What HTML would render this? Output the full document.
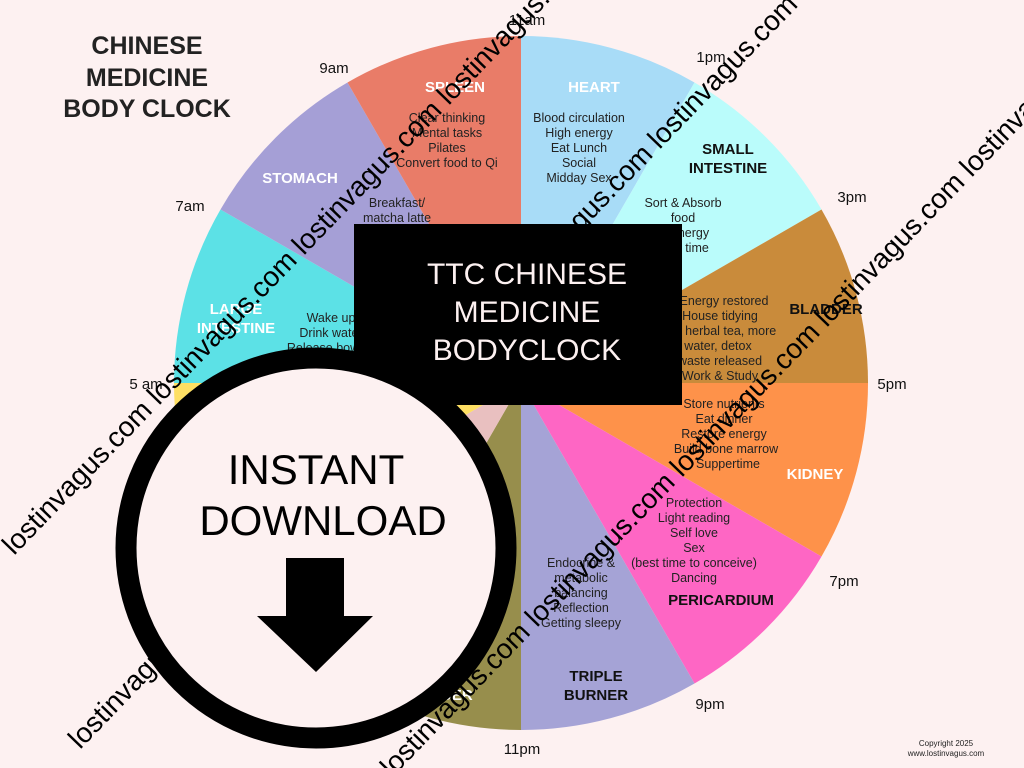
<!DOCTYPE html>
<html><head><meta charset="utf-8"><style>
html,body{margin:0;padding:0;background:#fdf1f1;}
svg{display:block;font-family:"Liberation Sans",sans-serif;}
.t{font-size:12.5px;fill:#222;text-anchor:middle}
.h{font-size:15px;font-weight:bold;text-anchor:middle}
.w{fill:#fff}
.k{fill:#111}
.tm{font-size:15px;fill:#111;text-anchor:middle}
.wm{font-size:28px;fill:#000}
</style></head><body>
<svg width="1024" height="768" viewBox="0 0 1024 768">
<rect width="1024" height="768" fill="#fdf1f1"/>
<g transform="translate(521,383)">
<path d="M0 0 L0 -347 A347 347 0 0 1 173.5 -300.5Z" fill="#a8dcf7"/>
<path d="M0 0 L173.5 -300.5 A347 347 0 0 1 300.5 -173.5Z" fill="#bafcfb"/>
<path d="M0 0 L300.5 -173.5 A347 347 0 0 1 347 0Z" fill="#c98b3b"/>
<path d="M0 0 L347 0 A347 347 0 0 1 300.5 173.5Z" fill="#fe924a"/>
<path d="M0 0 L300.5 173.5 A347 347 0 0 1 173.5 300.5Z" fill="#fe66c4"/>
<path d="M0 0 L173.5 300.5 A347 347 0 0 1 0 347Z" fill="#a5a3d6"/>
<path d="M0 0 L0 347 A347 347 0 0 1 -173.5 300.5Z" fill="#978e4c"/>
<path d="M0 0 L-173.5 300.5 A347 347 0 0 1 -300.5 173.5Z" fill="#e9c0c0"/>
<path d="M0 0 L-300.5 173.5 A347 347 0 0 1 -347 0Z" fill="#fedf63"/>
<path d="M0 0 L-347 0 A347 347 0 0 1 -300.5 -173.5Z" fill="#5ce1e6"/>
<path d="M0 0 L-300.5 -173.5 A347 347 0 0 1 -173.5 -300.5Z" fill="#a59fd6"/>
<path d="M0 0 L-173.5 -300.5 A347 347 0 0 1 0 -347Z" fill="#e97c68"/>
</g>
<g font-size="25" font-weight="bold" fill="#222" text-anchor="middle">
<text x="147" y="54">CHINESE</text><text x="147" y="86">MEDICINE</text><text x="147" y="117">BODY CLOCK</text>
</g>
<text class="tm" x="527" y="25">11am</text>
<text class="tm" x="711" y="62">1pm</text>
<text class="tm" x="852" y="202">3pm</text>
<text class="tm" x="892" y="389">5pm</text>
<text class="tm" x="844" y="586">7pm</text>
<text class="tm" x="710" y="709">9pm</text>
<text class="tm" x="522" y="754">11pm</text>
<text class="tm" x="146" y="389">5 am</text>
<text class="tm" x="190" y="211">7am</text>
<text class="tm" x="334" y="73">9am</text>
<text class="h w" x="594" y="92">HEART</text>
<text class="h k" x="728" y="154">SMALL</text><text class="h k" x="728" y="173">INTESTINE</text>
<text class="h k" x="826" y="314">BLADDER</text>
<text class="h w" x="815" y="479">KIDNEY</text>
<text class="h k" x="721" y="605">PERICARDIUM</text>
<text class="h k" x="596" y="681">TRIPLE</text><text class="h k" x="596" y="700">BURNER</text>
<text class="h w" x="300" y="183">STOMACH</text>
<text class="h w" x="455" y="92">SPLEEN</text>
<text class="h w" x="236" y="314">LARGE</text><text class="h w" x="236" y="333">INTESTINE</text>
<text class="h w" x="436" y="681">GALL</text><text class="h w" x="436" y="700">BLADDER</text>
<g>
<text class="t" x="579" y="122">Blood circulation</text><text class="t" x="579" y="137">High energy</text><text class="t" x="579" y="152">Eat Lunch</text><text class="t" x="579" y="167">Social</text><text class="t" x="579" y="182">Midday Sex</text>
<text class="t" x="447" y="122">Clear thinking</text><text class="t" x="447" y="137">Mental tasks</text><text class="t" x="447" y="152">Pilates</text><text class="t" x="447" y="167">Convert food to Qi</text>
<text class="t" x="683" y="207">Sort &amp; Absorb</text><text class="t" x="683" y="222">food</text><text class="t" x="690" y="237">energy</text><text class="t" x="697" y="252">time</text>
<text class="t" x="397" y="207">Breakfast/</text><text class="t" x="397" y="222">matcha latte</text><text class="t" x="397" y="237">Vitamins</text><text class="t" x="397" y="252">Good carbs</text>
<text class="t" x="724" y="305">Energy restored</text><text class="t" x="720" y="320">House tidying</text><text class="t" x="722" y="335">on herbal tea, more</text><text class="t" x="718" y="350">water, detox</text><text class="t" x="720" y="365">waste released</text><text class="t" x="720" y="380">Work &amp; Study</text>
<text class="t" x="331" y="322">Wake up</text><text class="t" x="331" y="337">Drink water</text><text class="t" x="331" y="352">Release bowels</text>
<text class="t" x="724" y="408">Store nutrients</text><text class="t" x="724" y="423">Eat dinner</text><text class="t" x="724" y="438">Restore energy</text><text class="t" x="726" y="453">Build bone marrow</text><text class="t" x="728" y="468">Suppertime</text>
<text class="t" x="694" y="507">Protection</text><text class="t" x="694" y="522">Light reading</text><text class="t" x="694" y="537">Self love</text><text class="t" x="694" y="552">Sex</text><text class="t" x="694" y="567">(best time to conceive)</text><text class="t" x="694" y="582">Dancing</text>
<text class="t" x="581" y="567">Endocrine &amp;</text><text class="t" x="581" y="582">metabolic</text><text class="t" x="581" y="597">balancing</text><text class="t" x="581" y="612">Reflection</text><text class="t" x="581" y="627">Getting sleepy</text>
<text class="t" x="475" y="618">Bowels</text>
</g>
<text class="wm" transform="translate(14,556) rotate(-46)">lostinvagus.com lostinvagus.com lostinvagus.com lostinvagus.com</text>
<text class="wm" transform="translate(80,750) rotate(-46)">lostinvagus.com lostinvagus.com lostinvagus.com lostinvagus.com lostinvagus.com</text>
<text class="wm" transform="translate(392,778) rotate(-46)">lostinvagus.com lostinvagus.com lostinvagus.com lostinvagus.com lostinvagus.com</text>
<rect x="354" y="224" width="328" height="181" fill="#000"/>
<g font-size="30" fill="#fdf1f1" text-anchor="middle"><text x="527" y="284">TTC CHINESE</text><text x="527" y="322">MEDICINE</text><text x="527" y="360">BODYCLOCK</text></g>
<circle cx="316" cy="548" r="190" fill="#fdf1f1" stroke="#000" stroke-width="21"/>
<g font-size="42" fill="#000" text-anchor="middle"><text x="316" y="484">INSTANT</text><text x="323" y="535">DOWNLOAD</text></g>
<polygon points="286,558 344,558 344,616 373,616 316,672 257,616 286,616" fill="#000"/>
<g font-size="8" fill="#222" text-anchor="middle"><text x="946" y="746">Copyright 2025</text><text x="946" y="756">www.lostinvagus.com</text></g>
</svg>
</body></html>
